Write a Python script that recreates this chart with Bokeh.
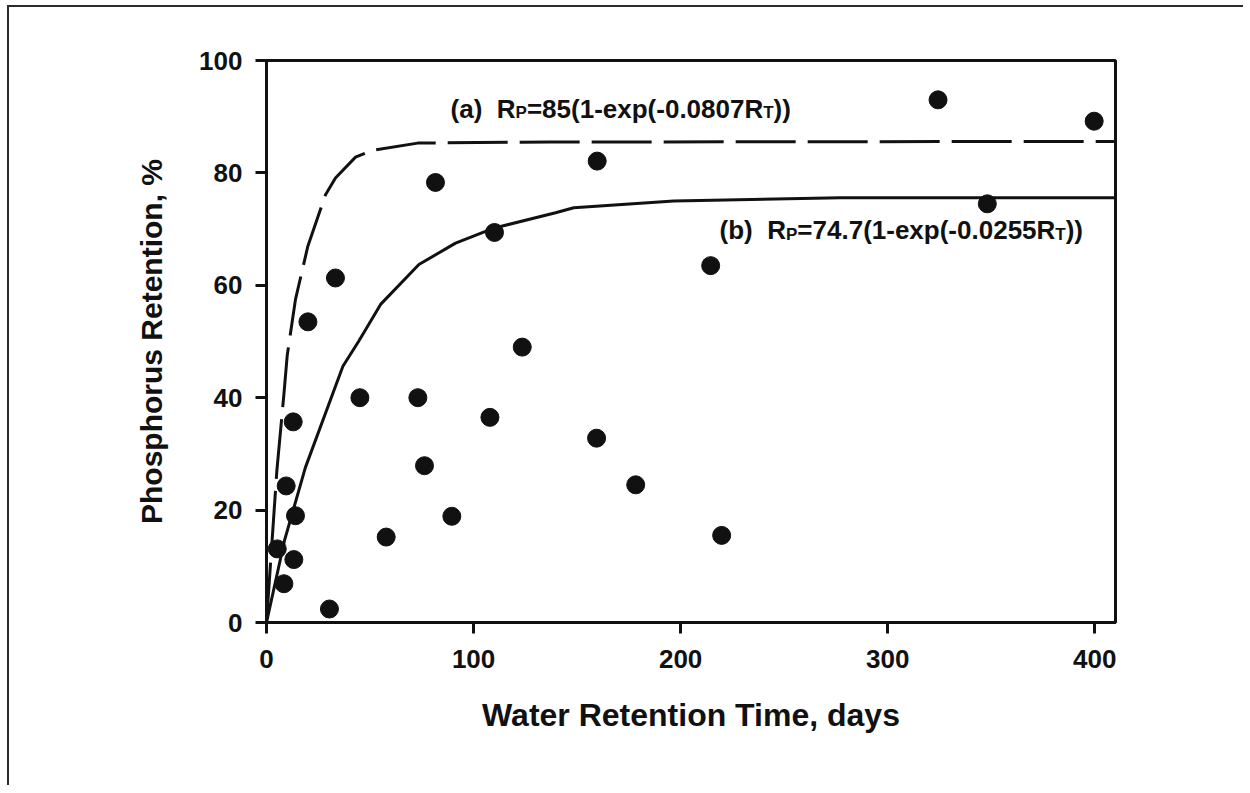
from bokeh.plotting import figure
from bokeh.models import Range1d, FixedTicker
from bokeh.core.properties import value
from bokeh.embed import file_html
from bokeh.resources import INLINE

# ---- data ----
water_days = [5.2, 8.4, 9.5, 12.9, 13.2, 14.0, 20.0, 30.4, 33.3, 45.1, 57.8, 73.1, 76.3,
              81.6, 89.5, 107.9, 110.1, 123.5, 159.4, 159.7, 178.3, 214.5, 219.8,
              324.3, 348.1, 399.7]
p_retention = [13.1, 6.9, 24.3, 35.7, 11.2, 19.0, 53.5, 2.4, 61.3, 40.0, 15.2, 40.0, 27.9,
               78.3, 18.9, 36.5, 69.4, 49.0, 32.8, 82.1, 24.5, 63.5, 15.5,
               93.0, 74.5, 89.2]

curve_a_days = [0, 5, 8.4, 10, 14, 20, 28.5, 33.3, 43, 51, 73, 137, 410]
curve_a_pct = [0, 27, 40.6, 47.5, 57.5, 67, 76.1, 79.1, 82.8, 84, 85.3, 85.5, 85.6]

curve_b_days = [0, 8.7, 18.8, 36.9, 44.6, 55.1, 73.6, 91.3, 110.1, 139.6, 148.4, 196.7, 277.3, 410]
curve_b_pct = [0, 14.6, 27.6, 45.6, 50.1, 56.6, 63.7, 67.5, 70.2, 72.9, 73.8, 75.0, 75.6, 75.6]

x_ticks = [0, 100, 200, 300, 400]
y_ticks = [0, 20, 40, 60, 80, 100]

# equation texts: (tag, main, subscript, main, subscript, main)
eq_a = ["(a)", "R", "P", "=85(1-exp(-0.0807R", "T", "))"]
eq_b = ["(b)", "R", "P", "=74.7(1-exp(-0.0255R", "T", "))"]

FONT = "Liberation Sans"
INK = "#111111"

p = figure(width=1236, height=780, x_range=Range1d(0, 410), y_range=Range1d(0, 100),
           output_backend="svg", toolbar_location=None,
           min_border_left=257, min_border_right=130, min_border_top=53, min_border_bottom=165,
           background_fill_color="white", border_fill_color="white")
p.styles = {"border-top": "2px solid #2b2b2b", "border-left": "2px solid #2b2b2b",
            "margin-left": "7px", "margin-top": "5px"}

p.outline_line_color = INK
p.outline_line_width = 3
p.xgrid.visible = False
p.ygrid.visible = False

for ax in (p.xaxis[0], p.yaxis[0]):
    ax.axis_line_width = 3
    ax.axis_line_color = INK
    ax.major_tick_line_width = 3
    ax.major_tick_line_color = INK
    ax.major_tick_out = 11
    ax.major_tick_in = 0
    ax.minor_tick_out = 0
    ax.minor_tick_in = 0
    ax.major_label_text_font = FONT
    ax.major_label_text_font_style = "bold"
    ax.major_label_text_font_size = "26px"
    ax.major_label_text_color = INK
    ax.axis_label_text_font = FONT
    ax.axis_label_text_font_style = "bold"
    ax.axis_label_text_color = INK

p.xaxis.axis_label_text_font_size = "32px"
p.yaxis.axis_label_text_font_size = "30px"
p.xaxis.ticker = FixedTicker(ticks=x_ticks)
p.yaxis.ticker = FixedTicker(ticks=y_ticks)
p.xaxis.major_label_standoff = 16
p.yaxis.major_label_standoff = 13
p.xaxis.axis_label = "Water Retention Time, days"
p.yaxis.axis_label = "Phosphorus Retention, %"
p.xaxis.axis_label_standoff = 26
p.yaxis.axis_label_standoff = 28

# fitted curves as drawn in the figure
p.line(curve_a_days, curve_a_pct, line_color=INK, line_width=3, line_dash="60 12")
p.line(curve_b_days, curve_b_pct, line_color=INK, line_width=3)

# observations
p.scatter(water_days, p_retention, size=18, marker="circle", fill_color=INK, line_color=INK)

# equation labels with subscripts (Arial/Liberation Sans Bold advance widths, per 1000 em)
ADV = {'(': 333, ')': 333, 'a': 556, 'b': 611, ' ': 278, 'R': 722, 'P': 667, 'T': 611,
       '=': 584, '.': 278, '-': 333, 'e': 556, 'x': 556, 'p': 611}
for d in "0123456789":
    ADV[d] = 556


def text_width(s, size):
    return sum(ADV.get(ch, 556) for ch in s) * size / 1000.0


def add_equation(x0, y0, parts):
    off = 0.0
    for i, part in enumerate(parts):
        sub = i in (2, 4)
        size = 17 if sub else 26
        p.text(x=[x0], y=[y0], text=[part], x_offset=off, y_offset=-8 if sub else -12,
               text_font=value(FONT), text_font_style="bold", text_font_size=f"{size}px",
               text_color=INK, text_align="left", text_baseline="alphabetic")
        off += text_width(part, size)
        if i == 0:
            off += 2 * ADV[' '] * 26 / 1000.0


add_equation(88.9, 89.3, eq_a)
add_equation(218.8, 67.7, eq_b)

open("out.html", "w").write(file_html(p, INLINE))
